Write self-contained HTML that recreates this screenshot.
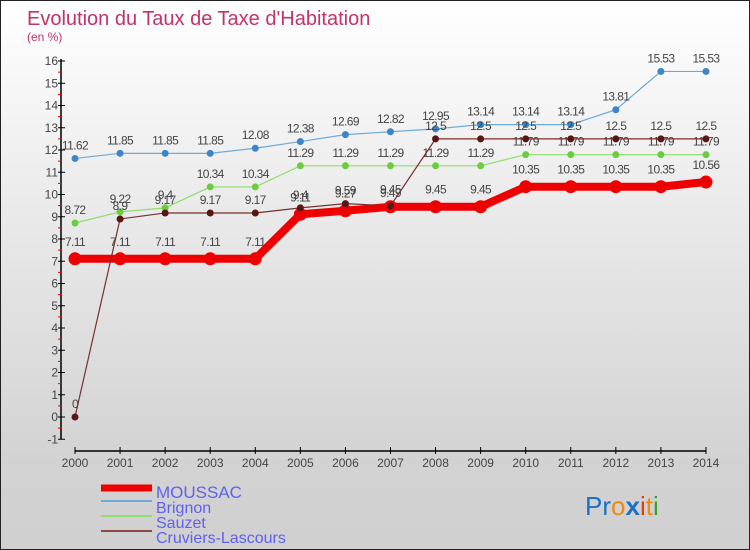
<!DOCTYPE html>
<html><head><meta charset="utf-8"><style>
body{margin:0}
#c{position:relative;width:748px;height:548px;border:1px solid #222;background:linear-gradient(#fff 0%,#e9e9e9 40%,#d2d2d2 85%,#d0d0d0 100%);overflow:hidden;font-family:"Liberation Sans",sans-serif}
svg text{font-family:"Liberation Sans",sans-serif}
</style></head><body>
<div id="c">
<svg id="s" width="748" height="548">
<text x="26" y="24" font-size="20" fill="#c2336b">Evolution du Taux de Taxe d'Habitation</text>
<text x="26" y="40" font-size="12" fill="#c2336b">(en %)</text>
<g id="axes"></g><g id="series"></g><g id="legend"></g>
<text x="584" y="514" font-size="26"><tspan fill="#1a70c8">Pr</tspan><tspan fill="#f08a10">o</tspan><tspan fill="#1a70c8" font-weight="bold">x</tspan><tspan fill="#e83a10">i</tspan><tspan fill="#f08a10">t</tspan><tspan fill="#3aa030">i</tspan></text>
</svg></div>
<script>
const years=[2000,2001,2002,2003,2004,2005,2006,2007,2008,2009,2010,2011,2012,2013,2014];
const moussac=[7.11,7.11,7.11,7.11,7.11,9.11,9.27,9.45,9.45,9.45,10.35,10.35,10.35,10.35,10.56];
const brignon=[11.62,11.85,11.85,11.85,12.08,12.38,12.69,12.82,12.95,13.14,13.14,13.14,13.81,15.53,15.53];
const sauzet=[8.72,9.22,9.4,10.34,10.34,11.29,11.29,11.29,11.29,11.29,11.79,11.79,11.79,11.79,11.79];
const cruviers=[0,8.9,9.17,9.17,9.17,9.4,9.59,9.49,12.5,12.5,12.5,12.5,12.5,12.5,12.5];
const yTicks=[-1,0,1,2,3,4,5,6,7,8,9,10,11,12,13,14,15,16];
const NS='http://www.w3.org/2000/svg';
const X=i=>74+i*45.07, Y=v=>416-v*22.25;
function mk(t,a,p){const e=document.createElementNS(NS,t);for(const k in a)e.setAttribute(k,a[k]);p.appendChild(e);return e;}
const ax=document.getElementById('axes');
let l=mk('line',{x1:60,y1:Y(16)-2,x2:60,y2:Y(-1),stroke:'#000','stroke-width':1.5},ax);


yTicks.forEach(v=>{
 const t=mk('line',{x1:57,x2:64,y1:Y(v),y2:Y(v),stroke:'#000'},ax);
 
 
 if(v<16){const h=mk('line',{x1:57,x2:61,y1:Y(v+0.5),y2:Y(v+0.5),stroke:'#e00'},ax);
 
 }
 const tx=mk('text',{x:57,y:Y(v)+4,'font-size':12,fill:'#444','text-anchor':'end'},ax);tx.textContent=v;
 
 
});
l=mk('line',{x1:X(0),y1:450,x2:X(14),y2:450,stroke:'#000','stroke-width':1.5},ax);


years.forEach((y,i)=>{
 const t=mk('line',{x1:X(i),x2:X(i),y1:446,y2:453,stroke:'#000'},ax);
 
 
 const tx=mk('text',{x:X(i),y:466,'font-size':12,fill:'#444','text-anchor':'middle'},ax);tx.textContent=y;
 
 
});
const S=document.getElementById('series');
function draw(name,data,col,lw,r,dot,lab){
 const g=mk('g',{},S);
 
 
 const pl=mk('polyline',{points:data.map((v,i)=>X(i)+','+Y(v)).join(' '),fill:'none',stroke:col,'stroke-width':lw},g);
 
 
 data.forEach((v,i)=>{
  const c=mk('circle',{cx:X(i),cy:Y(v),r:r,fill:dot},g);
  
  
  const tx=mk('text',{x:X(i),y:Y(v)-lab,'font-size':12,fill:'#444','text-anchor':'middle','letter-spacing':'-0.6'},g);tx.textContent=v;
  
  
 });
}
draw('brignon',brignon,'#6fa9d8',1.2,3.5,'#3a86c8',9);
draw('sauzet',sauzet,'#90dd70',1.2,3.5,'#6ccc40',9);
draw('moussac',moussac,'#ee0000',8,6.5,'#ee0000',13);
draw('cruviers',cruviers,'#7a2e2e',1.2,3.5,'#5a1515',9);
const L=document.getElementById('legend');
[['MOUSSAC','#ee0000',7,493,17],['Brignon','#6fa9d8',2,508,16],['Sauzet','#90dd70',2,523,16],['Cruviers-Lascours','#8a4848',2,538,16]].forEach(([n,c,w,y,fs])=>{
 const g=mk('g',{},L);
 
 
 mk('line',{x1:100,x2:151,y1:y-8+(w>2?2:0),y2:y-8+(w>2?2:0),stroke:c,'stroke-width':w},g);
 const tx=mk('text',{x:155,y:y+4,'font-size':fs,fill:'#6060ee'},g);tx.textContent=n;
});
</script>
</body></html>
